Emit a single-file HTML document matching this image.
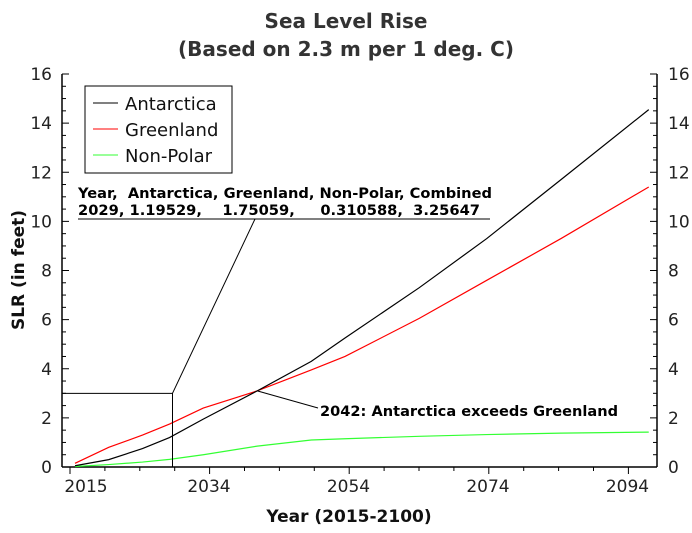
<!DOCTYPE html>
<html><head><meta charset="utf-8"><style>
body{margin:0;background:#fff;}
svg text{font-family:"DejaVu Sans","Liberation Sans",sans-serif;}
</style></head><body>
<svg id="c" width="692" height="528" xmlns="http://www.w3.org/2000/svg">
<text x="346" y="28" text-anchor="middle" font-size="20" font-weight="bold" fill="#333">Sea Level Rise</text>
<text x="346" y="56" text-anchor="middle" font-size="20" font-weight="bold" fill="#333">(Based on 2.3 m per 1 deg. C)</text>
<text x="349" y="522" text-anchor="middle" font-size="17" font-weight="bold" fill="#111">Year (2015-2100)</text>
<text transform="translate(24,270) rotate(-90)" text-anchor="middle" font-size="17" font-weight="bold" fill="#111">SLR (in feet)</text>
<g id="axes"></g>
<g id="series"></g>
<g>
<rect x="85" y="86" width="147" height="87" fill="#fff" stroke="#000" stroke-width="1"/>
<line x1="93" y1="103" x2="118" y2="103" stroke="#000"/>
<text x="125" y="110" font-size="18" fill="#111">Antarctica</text>
<line x1="93" y1="129" x2="118" y2="129" stroke="#f00"/>
<text x="125" y="136" font-size="18" fill="#111">Greenland</text>
<line x1="93" y1="155" x2="118" y2="155" stroke="#3f3"/>
<text x="125" y="162" font-size="18" fill="#111">Non-Polar</text>
</g>
<g>
<text x="78" y="198" font-size="14" font-weight="bold" fill="#000" xml:space="preserve" textLength="414" lengthAdjust="spacingAndGlyphs">Year,  Antarctica, Greenland, Non-Polar, Combined</text>
<text x="78" y="215" font-size="14" font-weight="bold" fill="#000" xml:space="preserve" textLength="402" lengthAdjust="spacingAndGlyphs">2029, 1.19529,    1.75059,     0.310588,  3.25647</text>
<line x1="78" y1="219" x2="490" y2="219" stroke="#000"/>
</g>
<text x="320" y="416" font-size="14" font-weight="bold" fill="#000" textLength="298" lengthAdjust="spacingAndGlyphs">2042: Antarctica exceeds Greenland</text>
</svg>
<script>
const years=[2015,2020,2025,2029,2034,2042,2050,2055,2066,2076,2087,2100];
const antarctica=[0.05,0.3,0.75,1.2,1.95,3.1,4.3,5.25,7.3,9.3,11.7,14.55];
const greenland=[0.15,0.8,1.3,1.75,2.4,3.1,3.95,4.5,6.05,7.6,9.3,11.4];
const nonPolar=[0.02,0.1,0.2,0.31,0.5,0.85,1.1,1.15,1.25,1.32,1.38,1.42];
const yTicks=[0,2,4,6,8,10,12,14,16];
const xTickLabels=["2015","2034","2054","2074","2094"];
const crossYear=2029, crossValue=3.0, meetYear=2042, meetValue=3.1;
const NS="http://www.w3.org/2000/svg";
const L=62,R=657,T=74,B=467;
const xs=y=>75+(y-2015)*6.75;
const ys=v=>B-v*(B-T)/16;
function mk(tag,attrs,parent){const e=document.createElementNS(NS,tag);for(const k in attrs)e.setAttribute(k,attrs[k]);parent.appendChild(e);return e;}
const ax=document.getElementById('axes');
let e=mk('line',{x1:L,y1:T,x2:L,y2:B,stroke:'#000','stroke-width':1.5},ax);


e=mk('line',{x1:R,y1:T,x2:R,y2:B,stroke:'#000','stroke-width':1.5},ax);


e=mk('line',{x1:L,y1:B,x2:R,y2:B,stroke:'#000','stroke-width':1.5},ax);


for(let v=0;v<=16;v+=0.5){const y=ys(v),len=(v%2===0)?7:4;
mk('line',{x1:L,y1:y,x2:L+len,y2:y,stroke:'#000'},ax);mk('line',{x1:R,y1:y,x2:R-len,y2:y,stroke:'#000'},ax);}
yTicks.forEach(v=>{let t=mk('text',{x:52,y:ys(v)+6,'text-anchor':'end','font-size':17,fill:'#222'},ax);t.textContent=v;


t=mk('text',{x:668,y:ys(v)+6,'font-size':17,fill:'#222'},ax);t.textContent=v;

});
for(let i=0;i<17;i++){const x=70+i*34.9;if(x>R)break;const major=(i%4===0);
mk('line',{x1:x,y1:B,x2:x,y2:B+(major?7:4),stroke:'#000'},ax);}
xTickLabels.forEach((s,i)=>{const x=i===0?86:209+(i-1)*139.5;let t=mk('text',{x:x,y:492,'text-anchor':'middle','font-size':17,fill:'#222'},ax);t.textContent=s;

});
const sg=document.getElementById('series');
function line(vals,color,name){const p=mk('polyline',{points:years.map((y,i)=>xs(y)+','+ys(vals[i])).join(' '),fill:'none',stroke:color,'stroke-width':1.2},sg);

}
line(nonPolar,'#3f3','line-non-polar');
line(greenland,'#f00','line-greenland');
line(antarctica,'#000','line-antarctica');
const cx=xs(crossYear)+3,cy=ys(crossValue);
e=mk('polyline',{points:`${L},${cy} ${cx},${cy} ${cx},${B}`,fill:'none',stroke:'#000'},sg);


e=mk('line',{x1:cx,y1:cy,x2:255,y2:219,stroke:'#000'},sg);


e=mk('line',{x1:xs(meetYear),y1:ys(meetValue),x2:318,y2:408,stroke:'#000'},sg);


</script>
</body></html>
